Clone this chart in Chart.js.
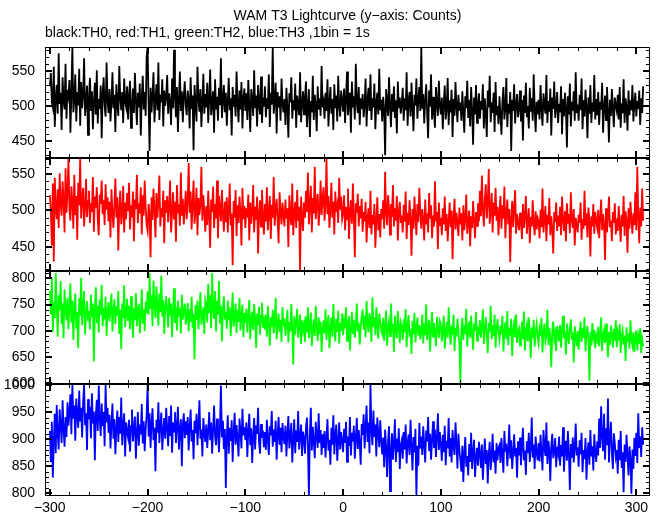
<!DOCTYPE html>
<html>
<head>
<meta charset="utf-8">
<title>WAM T3 Lightcurve</title>
<script src="https://cdn.jsdelivr.net/npm/chart.js@4/dist/chart.umd.min.js"></script>
<style>
  html, body { margin: 0; padding: 0; background: #ffffff; }
  #wrap { position: relative; width: 661px; height: 515px; overflow: hidden; background: #ffffff; }
  #wrap canvas { position: absolute; left: 0; }
</style>
</head>
<body>
<div id="wrap"></div>
<script>
// time of the first bin (s), 1 bin = 1 s
const tStart = -300;

// TH0 counts (black)
const th0 = [
  528, 547, 505, 498, 556, 470, 512, 530, 489, 575, 503, 519, 466, 541, 508, 495, 560, 482, 523, 514,
  537, 462, 518, 584, 491, 509, 545, 478, 520, 501, 553, 472, 534, 497, 515, 568, 486, 507, 529, 459,
  512, 540, 493, 521, 467, 505, 533, 488, 551, 475, 510, 496, 529, 454, 517, 541, 500, 485, 562, 508,
  490, 524, 478, 505, 548, 497, 516, 463, 531, 502, 486, 557, 511, 494, 520, 476, 539, 507, 499, 528,
  481, 514, 536, 469, 502, 525, 490, 547, 508, 473, 519, 498, 532, 458, 511, 543, 495, 520, 486, 570,
  584, 503, 436, 526, 491, 515, 548, 477, 509, 531, 494, 562, 480, 516, 505, 538, 471, 522, 500, 513,
  544, 489, 518, 506, 473, 539, 497, 580, 512, 484, 527, 463, 508, 549, 493, 521, 477, 514, 535, 501,
  487, 522, 509, 468, 541, 496, 515, 437, 530, 503, 478, 556, 511, 492, 524, 470, 505, 546, 489, 517,
  498, 533, 476, 510, 552, 487, 504, 521, 462, 538, 495, 513, 479, 526, 501, 568, 483, 508, 530, 491,
  519, 472, 506, 540, 494, 511, 458, 527, 499, 516, 485, 549, 503, 477, 522, 495, 534, 468, 510, 525,
  493, 518, 480, 537, 501, 463, 524, 509, 486, 551, 497, 515, 471, 530, 504, 488, 542, 476, 512, 499,
  528, 484, 511, 496, 545, 470, 519, 502, 584, 489, 507, 533, 461, 520, 498, 514, 479, 539, 503, 491,
  510, 473, 526, 497, 455, 518, 505, 541, 482, 508, 494, 532, 469, 515, 500, 487, 548, 477, 503, 521,
  488, 512, 535, 470, 499, 524, 456, 507, 491, 543, 480, 516, 502, 464, 528, 495, 511, 486, 557, 498,
  506, 482, 519, 493, 538, 471, 503, 527, 489, 510, 466, 531, 497, 515, 478, 543, 501, 485, 522, 508,
  492, 525, 476, 510, 549, 487, 503, 519, 462, 535, 498, 514, 481, 560, 505, 490, 527, 473, 511, 496,
  517, 484, 502, 539, 471, 508, 526, 493, 545, 480, 511, 498, 532, 467, 505, 519, 488, 553, 494, 509,
  478, 513, 496, 430, 524, 505, 486, 541, 499, 470, 517, 492, 528, 483, 508, 461, 535, 497, 512, 489,
  503, 526, 479, 511, 494, 548, 472, 507, 520, 485, 533, 498, 464, 516, 501, 539, 482, 509, 527, 493,
  584, 496, 517, 475, 508, 531, 490, 454, 522, 499, 545, 481, 513, 492, 469, 527, 504, 486, 536, 500,
  488, 512, 467, 503, 529, 481, 496, 540, 473, 508, 491, 523, 456, 510, 486, 534, 499, 477, 516, 493,
  505, 479, 521, 490, 462, 514, 497, 536, 483, 509, 471, 527, 494, 445, 512, 488, 530, 476, 501, 518,
  482, 507, 495, 531, 468, 511, 489, 456, 522, 498, 543, 477, 505, 490, 519, 463, 534, 487, 500, 474,
  514, 488, 459, 506, 527, 481, 497, 540, 470, 503, 489, 520, 436, 509, 493, 531, 475, 502, 517, 484,
  496, 522, 478, 508, 451, 515, 490, 533, 484, 500, 468, 526, 492, 511, 479, 545, 497, 463, 506, 488,
  509, 481, 530, 495, 472, 518, 501, 489, 544, 476, 507, 492, 525, 458, 512, 496, 535, 483, 499, 520,
  476, 503, 491, 528, 460, 510, 485, 519, 497, 441, 514, 488, 532, 471, 506, 493, 521, 479, 548, 490,
  502, 479, 516, 494, 539, 467, 508, 485, 523, 498, 454, 512, 489, 530, 476, 505, 492, 544, 481, 510,
  487, 520, 473, 506, 495, 533, 462, 499, 515, 480, 527, 491, 448, 509, 486, 524, 497, 470, 512, 501,
  493, 516, 481, 527, 469, 504, 490, 538, 476, 511, 499, 465, 522, 487, 508, 494, 530, 478, 503, 519,
  485, 507, 496, 522, 473, 511, 490, 528
];

// TH1 counts (red)
const th1 = [
  521, 498, 452, 537, 430, 545, 503, 488, 529, 476, 551, 509, 493, 540, 515, 470, 558, 497, 524, 571,
  502, 486, 533, 512, 475, 549, 494, 520, 460, 538, 507, 571, 489, 516, 531, 478, 505, 543, 491, 513,
  527, 483, 510, 498, 546, 471, 519, 504, 532, 487, 466, 522, 509, 541, 495, 514, 480, 536, 501, 518,
  485, 512, 463, 529, 497, 476, 508, 544, 490, 518, 445, 503, 527, 481, 496, 534, 470, 511, 488, 524,
  499, 538, 474, 507, 491, 526, 458, 515, 502, 549, 483, 510, 496, 532, 467, 521, 493, 541, 505, 480,
  472, 509, 495, 436, 518, 487, 530, 501, 463, 524, 490, 512, 548, 478, 503, 491, 527, 455, 514, 497,
  520, 484, 506, 541, 470, 498, 525, 489, 512, 457, 535, 496, 508, 479, 552, 493, 516, 481, 503, 527,
  488, 513, 565, 497, 526, 474, 509, 541, 482, 500, 531, 466, 517, 494, 508, 560, 486, 521, 499, 471,
  506, 480, 527, 493, 449, 515, 498, 533, 476, 509, 489, 541, 462, 520, 503, 485, 528, 495, 471, 512,
  484, 518, 470, 501, 537, 479, 496, 425, 513, 490, 528, 465, 507, 483, 519, 498, 452, 531, 488, 506,
  476, 503, 490, 522, 459, 511, 482, 498, 535, 470, 505, 487, 519, 441, 496, 514, 478, 528, 493, 467,
  509, 485, 532, 473, 497, 520, 461, 508, 490, 546, 479, 502, 516, 487, 455, 525, 498, 481, 511, 494,
  478, 515, 489, 503, 450, 521, 494, 480, 537, 466, 499, 512, 476, 528, 486, 505, 418, 519, 491, 472,
  511, 490, 527, 498, 552, 481, 506, 534, 470, 517, 496, 560, 488, 509, 523, 479, 501, 541, 494, 515,
  532, 486, 509, 571, 495, 520, 476, 503, 538, 490, 512, 467, 526, 498, 507, 483, 545, 501, 519, 488,
  496, 521, 473, 505, 488, 530, 461, 499, 514, 482, 537, 492, 436, 510, 497, 523, 478, 506, 489, 516,
  471, 498, 485, 512, 456, 489, 503, 476, 527, 467, 494, 481, 509, 449, 486, 518, 473, 495, 463, 502,
  488, 514, 475, 553, 496, 480, 521, 502, 467, 509, 491, 535, 478, 503, 486, 520, 459, 497, 512, 483,
  493, 470, 508, 485, 526, 461, 497, 480, 514, 488, 438, 502, 475, 519, 491, 466, 509, 484, 531, 497,
  475, 502, 488, 459, 515, 481, 496, 470, 524, 489, 507, 462, 493, 478, 540, 485, 498, 447, 511, 479,
  490, 466, 503, 481, 519, 472, 495, 458, 486, 511, 477, 500, 433, 489, 516, 474, 497, 482, 465, 504,
  481, 496, 459, 507, 473, 489, 522, 468, 484, 500, 451, 492, 476, 513, 486, 462, 498, 479, 510, 485,
  527, 492, 548, 503, 478, 515, 536, 489, 509, 557, 482, 498, 524, 470, 511, 493, 531, 486, 505, 466,
  498, 520, 475, 507, 489, 533, 462, 496, 515, 481, 502, 429, 490, 513, 477, 504, 528, 468, 495, 484,
  473, 497, 484, 461, 509, 476, 492, 520, 468, 487, 503, 455, 491, 478, 514, 482, 466, 499, 474, 490,
  486, 462, 501, 477, 530, 470, 489, 506, 458, 494, 481, 517, 466, 492, 475, 441, 498, 484, 511, 472,
  493, 478, 505, 466, 519, 487, 472, 499, 458, 510, 482, 495, 469, 525, 486, 476, 502, 452, 490, 481,
  470, 494, 483, 511, 460, 488, 475, 527, 479, 496, 463, 504, 485, 437, 492, 478, 509, 468, 498, 484,
  476, 501, 462, 489, 515, 473, 495, 481, 432, 503, 470, 491, 519, 477, 486, 458, 498, 483, 510, 467,
  489, 472, 506, 481, 457, 494, 478, 520, 465, 499, 486, 442, 503, 475, 512, 488, 468, 496, 480, 525,
  473, 560, 491, 455, 504, 478, 530, 486
];

// TH2 counts (green)
const th2 = [
  776, 732, 801, 698, 755, 724, 810, 747, 689, 768, 739, 795, 713, 752, 686, 779, 741, 720, 763, 703,
  749, 790, 716, 758, 683, 742, 771, 704, 736, 667, 762, 729, 801, 711, 745, 776, 693, 734, 757, 720,
  738, 703, 769, 726, 752, 642, 741, 783, 715, 748, 697, 760, 731, 788, 709, 744, 722, 765, 690, 737,
  755, 718, 742, 771, 699, 736, 760, 713, 747, 729, 776, 694, 740, 665, 752, 724, 787, 707, 733, 761,
  719, 748, 703, 766, 731, 687, 744, 721, 772, 709, 738, 752, 695, 728, 779, 714, 741, 700, 756, 734,
  775, 731, 810, 742, 768, 709, 796, 753, 724, 785, 748, 710, 771, 736, 805, 727, 759, 694, 744, 766,
  740, 707, 763, 729, 752, 688, 736, 781, 715, 745, 701, 758, 727, 743, 695, 769, 722, 738, 752, 712,
  728, 753, 699, 741, 717, 765, 706, 732, 646, 749, 721, 758, 703, 737, 774, 712, 729, 745, 694, 760,
  752, 716, 789, 734, 768, 705, 810, 741, 723, 776, 699, 757, 731, 795, 714, 748, 680, 739, 766, 722,
  736, 704, 758, 721, 745, 690, 731, 773, 708, 727, 752, 696, 740, 717, 763, 701, 729, 750, 688, 734,
  715, 742, 697, 728, 759, 684, 719, 737, 702, 751, 724, 668, 733, 711, 746, 693, 729, 754, 706, 720,
  703, 731, 689, 748, 714, 672, 726, 707, 740, 695, 719, 763, 684, 712, 733, 698, 721, 679, 745, 709,
  724, 691, 712, 740, 678, 717, 699, 751, 704, 636, 728, 693, 715, 742, 687, 709, 731, 675, 720, 701,
  713, 679, 728, 697, 745, 686, 710, 735, 671, 703, 722, 690, 748, 708, 681, 726, 694, 718, 660, 702,
  720, 695, 741, 683, 712, 730, 667, 704, 726, 689, 751, 707, 680, 723, 698, 739, 676, 715, 700, 733,
  692, 718, 705, 745, 681, 710, 728, 663, 702, 736, 694, 721, 687, 711, 752, 699, 716, 674, 707, 728,
  741, 703, 729, 688, 757, 715, 697, 734, 720, 679, 764, 708, 726, 692, 745, 711, 685, 733, 718, 700,
  694, 725, 681, 710, 739, 672, 706, 719, 690, 752, 698, 713, 660, 729, 702, 686, 738, 711, 677, 716,
  708, 683, 722, 697, 741, 669, 712, 730, 688, 703, 656, 719, 694, 734, 678, 707, 725, 691, 711, 684,
  699, 731, 676, 714, 692, 750, 683, 708, 721, 661, 702, 736, 689, 715, 697, 671, 727, 704, 686, 719,
  713, 680, 702, 729, 666, 695, 718, 687, 745, 701, 674, 710, 693, 731, 662, 706, 689, 723, 698, 676,
  601, 705, 725, 683, 711, 694, 742, 670, 703, 718, 687, 729, 696, 664, 714, 700, 736, 681, 708, 692,
  720, 687, 709, 741, 675, 702, 726, 693, 658, 715, 699, 748, 684, 711, 690, 731, 668, 705, 722, 696,
  683, 710, 694, 729, 661, 700, 717, 685, 738, 673, 706, 691, 723, 652, 702, 715, 688, 731, 677, 699,
  705, 672, 691, 718, 684, 737, 663, 699, 711, 680, 726, 694, 648, 707, 686, 721, 670, 698, 713, 689,
  676, 703, 690, 725, 659, 697, 714, 681, 692, 740, 673, 706, 688, 631, 701, 718, 684, 696, 662, 709,
  694, 680, 711, 668, 702, 729, 686, 699, 655, 714, 691, 675, 707, 722, 683, 697, 640, 709, 688, 671,
  700, 664, 692, 718, 679, 705, 687, 726, 661, 694, 709, 682, 605, 698, 672, 715, 689, 702, 667, 691,
  683, 708, 671, 695, 726, 662, 689, 701, 677, 714, 686, 650, 698, 673, 710, 692, 668, 704, 681, 720,
  669, 696, 682, 713, 658, 688, 701, 674, 691, 643, 707, 679, 695, 666, 720, 684, 672, 698, 660, 687,
  701, 663, 690, 676, 705, 658, 684, 671
];

// TH3 counts (blue)
const th3 = [
  915, 858, 932, 829, 896, 947, 874, 963, 910, 881, 955, 927, 893, 972, 918, 886, 941, 904, 968, 925,
  951, 983, 909, 1000, 938, 962, 897, 975, 944, 921, 990, 933, 958, 903, 969, 1000, 926, 948, 880, 974,
  937, 960, 902, 985, 929, 951, 861, 944, 973, 915, 999, 938, 906, 966, 924, 950, 887, 1000, 931, 958,
  912, 945, 883, 928, 966, 901, 937, 872, 920, 953, 895, 941, 910, 977, 889, 925, 948, 868, 931, 914,
  903, 936, 877, 924, 955, 896, 919, 942, 864, 911, 950, 888, 927, 909, 965, 892, 933, 878, 918, 946,
  1000, 905, 948, 884, 929, 957, 898, 921, 841, 936, 912, 968, 893, 926, 949, 880, 915, 939, 901, 958,
  920, 887, 943, 906, 962, 875, 931, 914, 950, 893, 924, 960, 881, 917, 937, 850, 926, 948, 902, 933,
  908, 941, 879, 922, 955, 896, 917, 863, 934, 911, 947, 889, 926, 972, 901, 918, 868, 939, 913, 895,
  927, 884, 915, 950, 898, 931, 873, 918, 962, 905, 889, 938, 912, 876, 925, 999, 903, 934, 882, 919,
  810, 906, 944, 873, 921, 897, 935, 858, 912, 949, 890, 926, 901, 868, 938, 914, 883, 956, 907, 922,
  898, 931, 867, 914, 947, 889, 920, 856, 905, 939, 881, 925, 910, 958, 894, 873, 928, 903, 916, 885,
  913, 880, 936, 899, 871, 924, 907, 952, 886, 918, 895, 934, 862, 909, 941, 890, 921, 876, 930, 904,
  891, 925, 868, 910, 943, 883, 906, 930, 857, 899, 937, 874, 916, 895, 952, 881, 908, 927, 869, 914,
  902, 873, 920, 940, 886, 795, 911, 958, 879, 923, 897, 865, 932, 905, 884, 948, 893, 917, 871, 909,
  884, 915, 866, 902, 937, 879, 899, 853, 921, 890, 944, 872, 908, 927, 860, 895, 931, 881, 913, 897,
  876, 919, 893, 932, 858, 905, 887, 941, 870, 912, 896, 925, 864, 901, 939, 882, 917, 891, 853, 928,
  908, 946, 883, 921, 962, 895, 931, 874, 1000, 916, 889, 953, 904, 927, 868, 940, 911, 885, 935, 897,
  872, 903, 848, 918, 886, 830, 897, 924, 804, 879, 911, 862, 893, 937, 858, 901, 876, 920, 845, 889,
  898, 864, 913, 881, 927, 855, 893, 909, 871, 936, 887, 842, 904, 876, 919, 795, 888, 851, 930, 883,
  905, 871, 924, 889, 857, 916, 896, 941, 878, 910, 862, 899, 933, 884, 918, 867, 902, 948, 880, 913,
  891, 860, 908, 876, 925, 852, 897, 883, 939, 868, 902, 857, 917, 886, 871, 931, 893, 846, 910, 879,
  862, 840, 888, 821, 875, 904, 849, 869, 833, 891, 858, 912, 845, 876, 899, 830, 866, 884, 851, 895,
  873, 847, 890, 825, 866, 901, 854, 880, 818, 872, 895, 843, 869, 910, 857, 879, 836, 893, 861, 884,
  889, 856, 902, 871, 838, 915, 877, 892, 850, 881, 927, 864, 898, 845, 875, 909, 868, 884, 829, 896,
  870, 903, 852, 887, 921, 861, 879, 834, 896, 874, 912, 858, 883, 940, 866, 890, 845, 905, 877, 861,
  893, 859, 908, 876, 842, 917, 885, 869, 931, 854, 897, 880, 823, 889, 910, 865, 878, 902, 848, 886,
  874, 905, 851, 889, 868, 922, 840, 883, 897, 860, 915, 875, 806, 891, 866, 903, 857, 884, 929, 870,
  885, 849, 898, 872, 912, 839, 880, 863, 902, 825, 876, 894, 853, 917, 868, 887, 842, 909, 873, 858,
  896, 870, 938, 884, 961, 905, 878, 947, 862, 920, 889, 975, 857, 901, 932, 876, 845, 911, 893, 868,
  880, 836, 899, 861, 915, 847, 876, 802, 890, 858, 908, 871, 833, 887, 864, 799, 881, 845, 902, 869,
  912, 856, 948, 884, 905, 867, 922, 890
];

// axis ranges per panel
const yMin = [426, 417, 599, 795];
const yMax = [584, 572, 814, 1002];
const xMin = -305;
const xMax = 314;

const series = [th0, th1, th2, th3];
const colors = ['#000000', '#ff0000', '#00ff00', '#0000ff'];

// panel frames in page pixels
const panelTop = [47, 158, 271, 384];
const panelBottom = [158, 271, 384, 496];
const overlap = 24;

const FONT = "'Liberation Sans', Arial, Helvetica, sans-serif";
Chart.defaults.font.family = FONT;
Chart.defaults.color = '#000000';

const minus = v => (v < 0 ? '\u2212' + Math.abs(v) : String(v));

// frame box + inward major/minor ticks on all four sides
const frameTicks = {
  id: 'frameTicks',
  afterDatasetsDraw(chart, args, opts) {
    const { ctx, chartArea: a } = chart;
    const x = chart.scales.x, y = chart.scales.y;
    ctx.save();
    ctx.strokeStyle = '#000000';
    // minor ticks
    ctx.lineWidth = 1;
    ctx.beginPath();
    for (let v = Math.ceil(x.min / 20) * 20; v <= x.max; v += 20) {
      if (v % 100 === 0) continue;
      const px = Math.round(x.getPixelForValue(v)) + 0.5;
      ctx.moveTo(px, a.top); ctx.lineTo(px, a.top + 4);
      ctx.moveTo(px, a.bottom); ctx.lineTo(px, a.bottom - 4);
    }
    for (let v = Math.ceil(y.min / 10) * 10; v <= y.max; v += 10) {
      if (v % 50 === 0) continue;
      const py = Math.round(y.getPixelForValue(v)) + 0.5;
      ctx.moveTo(a.left, py); ctx.lineTo(a.left + 4, py);
      ctx.moveTo(a.right, py); ctx.lineTo(a.right - 4, py);
    }
    ctx.stroke();
    // major ticks
    ctx.lineWidth = 2;
    ctx.beginPath();
    for (let v = Math.ceil(x.min / 100) * 100; v <= x.max; v += 100) {
      const px = Math.round(x.getPixelForValue(v));
      ctx.moveTo(px, a.top); ctx.lineTo(px, a.top + 7);
      ctx.moveTo(px, a.bottom); ctx.lineTo(px, a.bottom - 7);
    }
    for (let v = Math.ceil(y.min / 50) * 50; v <= y.max; v += 50) {
      const py = Math.round(y.getPixelForValue(v));
      ctx.moveTo(a.left, py); ctx.lineTo(a.left + 7, py);
      ctx.moveTo(a.right, py); ctx.lineTo(a.right - 7, py);
    }
    ctx.stroke();
    // frame
    ctx.lineWidth = 1;
    ctx.beginPath();
    ctx.moveTo(a.left + 0.5, a.top); ctx.lineTo(a.left + 0.5, a.bottom);
    ctx.moveTo(a.right - 0.5, a.top); ctx.lineTo(a.right - 0.5, a.bottom);
    ctx.stroke();
    ctx.lineWidth = opts.topW;
    ctx.beginPath();
    ctx.moveTo(a.left, a.top + (opts.topW === 1 ? 0.5 : 0));
    ctx.lineTo(a.right, a.top + (opts.topW === 1 ? 0.5 : 0));
    ctx.stroke();
    ctx.lineWidth = opts.bottomW;
    ctx.beginPath();
    ctx.moveTo(a.left, a.bottom - (opts.bottomW === 1 ? 0.5 : 0));
    ctx.lineTo(a.right, a.bottom - (opts.bottomW === 1 ? 0.5 : 0));
    ctx.stroke();
    ctx.restore();
  }
};

const wrap = document.getElementById('wrap');

series.forEach((vals, i) => {
  const last = i === series.length - 1;
  const padTop = i === 0 ? 0 : overlap;
  const padBottom = last ? 0 : overlap;
  const top = i === 0 ? 0 : panelTop[i] - padTop;
  const height = (last ? 515 : panelBottom[i] + padBottom) - top;

  const cv = document.createElement('canvas');
  cv.width = 661;
  cv.height = height;
  cv.style.width = '661px';
  cv.style.height = height + 'px';
  cv.style.top = top + 'px';
  wrap.appendChild(cv);

  new Chart(cv, {
    type: 'line',
    data: {
      datasets: [{
        data: vals.map((v, k) => ({ x: tStart + k, y: v })),
        borderColor: colors[i],
        borderWidth: 1.8,
        pointRadius: 0,
        fill: false
      }]
    },
    options: {
      responsive: false,
      animation: false,
      events: [],
      layout: { padding: { left: 0, right: 11, top: padTop, bottom: padBottom } },
      plugins: {
        legend: { display: false },
        tooltip: { enabled: false },
        title: {
          display: i === 0,
          text: 'WAM T3 Lightcurve (y\u2212axis: Counts)',
          fullSize: false,
          align: 'center',
          color: '#000000',
          font: { family: FONT, size: 14, weight: 'normal' },
          padding: { top: 8, bottom: 0 }
        },
        subtitle: {
          display: i === 0,
          text: 'black:TH0, red:TH1, green:TH2, blue:TH3 ,1bin = 1s',
          fullSize: false,
          align: 'start',
          color: '#000000',
          font: { family: FONT, size: 14, weight: 'normal' },
          padding: { top: 0.3, bottom: 5.1 }
        },
        frameTicks: { topW: i === 0 ? 1 : 2, bottomW: last ? 1 : 2 }
      },
      scales: {
        x: {
          type: 'linear',
          min: xMin,
          max: xMax,
          display: last,
          afterFit: s => { if (last) s.height = 19; },
          grid: { display: false, drawTicks: false },
          border: { display: false },
          ticks: {
            stepSize: 100,
            includeBounds: false,
            autoSkip: false,
            maxRotation: 0,
            padding: 4,
            color: '#000000',
            font: { family: FONT, size: 14 },
            callback: v => minus(v)
          }
        },
        y: {
          type: 'linear',
          min: yMin[i],
          max: yMax[i],
          afterFit: s => { s.width = 45; },
          grid: { display: false, drawTicks: false },
          border: { display: false },
          ticks: {
            stepSize: 50,
            includeBounds: false,
            autoSkip: false,
            padding: 10,
            color: '#000000',
            font: { family: FONT, size: 14 },
            callback: v => String(v)
          }
        }
      }
    },
    plugins: [frameTicks]
  });
});
</script>
</body>
</html>
